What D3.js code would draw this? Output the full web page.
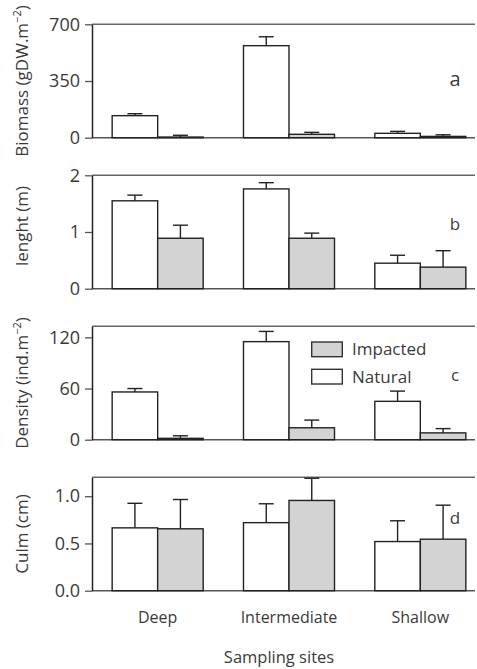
<!DOCTYPE html>
<meta charset="utf-8">
<script src="https://d3js.org/d3.v7.min.js"></script>
<style>
  body { margin: 0; background: #fff; }
  text { font-family: "Open Sans", sans-serif; fill: #3a3a3a; }
</style>
<div id="my_dataviz"></div>
<script>
  // data
  var sites = ["Deep", "Intermediate", "Shallow"];
  var treatments = ["Natural", "Impacted"];

  var biomassNatural = [136, 568, 27],       biomassNaturalErr = [12, 55, 12];
  var biomassImpacted = [4, 21, 8],          biomassImpactedErr = [11, 12, 10];
  var lengthNatural = [1.55, 1.76, 0.45],    lengthNaturalErr = [0.10, 0.11, 0.14];
  var lengthImpacted = [0.89, 0.89, 0.38],   lengthImpactedErr = [0.23, 0.09, 0.29];
  var densityNatural = [56, 115, 45],        densityNaturalErr = [4, 12, 12];
  var densityImpacted = [1.6, 14, 8],        densityImpactedErr = [3, 9, 5];
  var culmNatural = [0.665, 0.72, 0.52],     culmNaturalErr = [0.26, 0.20, 0.22];
  var culmImpacted = [0.655, 0.955, 0.545],  culmImpactedErr = [0.31, 0.235, 0.36];

  var panelLetters = ["a", "b", "c", "d"];
  var yLabels = ["Biomass (gDW.m", "lenght (m)", "Density (ind.m", "Culm (cm)"];
  var ySuper = [true, false, true, false];
  var yMax = [700, 2, 133, 1.2];
  var yTicks = [[0, 350, 700], [0, 1, 2], [0, 60, 120], [0, 0.5, 1.0]];
  var xTitle = "Sampling sites";

  var panels = [
    [biomassNatural, biomassNaturalErr, biomassImpacted, biomassImpactedErr],
    [lengthNatural, lengthNaturalErr, lengthImpacted, lengthImpactedErr],
    [densityNatural, densityNaturalErr, densityImpacted, densityImpactedErr],
    [culmNatural, culmNaturalErr, culmImpacted, culmImpactedErr]
  ];

  var width = 477, height = 669;
  var left = 92, right = 475;
  var panelTop = 24.3, panelStep = 151, panelH = 113.4;

  var svg = d3.select("#my_dataviz")
    .append("svg")
    .attr("width", width)
    .attr("height", height);

  var x0 = d3.scaleBand().domain(sites).range([left, 486]).padding(0);
  var x1 = d3.scaleBand().domain(treatments)
    .range([0, x0.bandwidth()])
    .paddingInner(0).paddingOuter(0.443);

  var fill = { Natural: "#ffffff", Impacted: "#d3d3d3" };

  panels.forEach(function(p, i) {
    var top = panelTop + i * panelStep;
    var bottom = top + panelH;
    var y = d3.scaleLinear().domain([0, yMax[i]]).range([bottom, top]);
    var g = svg.append("g");

    // top frame line and baseline
    g.append("line")
      .attr("x1", left).attr("x2", right)
      .attr("y1", top).attr("y2", top)
      .attr("stroke", "#666").attr("stroke-width", 1.5);
    g.append("line")
      .attr("x1", left).attr("x2", right)
      .attr("y1", bottom).attr("y2", bottom)
      .attr("stroke", "#555").attr("stroke-width", 1.5);

    // y axis
    var fmt = i === 3 ? d3.format(".1f") : d3.format("d");
    var ax = g.append("g")
      .attr("transform", "translate(" + left + ",0)")
      .call(d3.axisLeft(y).tickValues(yTicks[i]).tickFormat(fmt)
        .tickSize(7).tickSizeOuter(0).tickPadding(5));
    ax.select(".domain").attr("stroke", "#222").attr("stroke-width", 1.5);
    ax.selectAll(".tick line").attr("stroke", "#555").attr("stroke-width", 1.3);
    ax.selectAll(".tick text")
      .style("font-family", "'Open Sans', sans-serif")
      .style("font-size", "18px").attr("fill", "#3a3a3a");

    // y label
    var lab = g.append("text")
      .attr("transform", "translate(28," + ((top + bottom) / 2 + (i === 1 ? -6 : 0)) + ") rotate(-90)")
      .attr("text-anchor", "middle")
      .style("font-size", "17px");
    lab.append("tspan").text(yLabels[i]);
    if (ySuper[i]) {
      lab.append("tspan").attr("dy", -7).style("font-size", "11px").text("\u22122");
      lab.append("tspan").attr("dy", 7).text(")");
    }

    // bars
    var rows = [];
    sites.forEach(function(s, k) {
      rows.push({ site: s, t: "Natural", v: p[0][k], e: p[1][k] });
      rows.push({ site: s, t: "Impacted", v: p[2][k], e: p[3][k] });
    });

    // error bars (drawn first so the bar outline sits on top)
    var eb = g.selectAll(".err").data(rows).enter().append("g");
    eb.append("line")
      .attr("x1", function(d) { return x0(d.site) + x1(d.t) + x1.bandwidth() / 2; })
      .attr("x2", function(d) { return x0(d.site) + x1(d.t) + x1.bandwidth() / 2; })
      .attr("y1", function(d) { return y(d.v); })
      .attr("y2", function(d) { return y(d.v + d.e); })
      .attr("stroke", "#222").attr("stroke-width", 1.4);
    eb.append("line")
      .attr("x1", function(d) { return x0(d.site) + x1(d.t) + x1.bandwidth() / 2 - 7.5; })
      .attr("x2", function(d) { return x0(d.site) + x1(d.t) + x1.bandwidth() / 2 + 7.5; })
      .attr("y1", function(d) { return y(d.v + d.e); })
      .attr("y2", function(d) { return y(d.v + d.e); })
      .attr("stroke", "#222").attr("stroke-width", 1.4);

    g.selectAll(".bar").data(rows).enter().append("rect")
      .attr("x", function(d) { return x0(d.site) + x1(d.t); })
      .attr("y", function(d) { return y(d.v); })
      .attr("width", x1.bandwidth())
      .attr("height", function(d) { return bottom - y(d.v); })
      .attr("fill", function(d) { return fill[d.t]; })
      .attr("stroke", "#222").attr("stroke-width", 1.4);

    // panel letter
    g.append("text")
      .attr("x", 455).attr("y", top + (i === 0 ? 62 : i === 3 ? 47 : 55))
      .attr("text-anchor", "middle")
      .style("font-size", i === 0 ? "20px" : "17px")
      .text(panelLetters[i]);

    if (i === 3) {
      g.selectAll(".xl").data(sites).enter().append("text")
        .attr("x", function(d) { return x0(d) + x0.bandwidth() / 2; })
        .attr("y", 623)
        .attr("text-anchor", "middle")
        .style("font-size", "16px")
        .text(function(d) { return d; });
    }
  });

  // legend (in panel c)
  var legend = svg.append("g");
  ["Impacted", "Natural"].forEach(function(t, k) {
    legend.append("rect")
      .attr("x", 311.7).attr("y", 342 + k * 27.3)
      .attr("width", 30.6).attr("height", 14.7)
      .attr("fill", fill[t]).attr("stroke", "#333").attr("stroke-width", 1.4);
    legend.append("text")
      .attr("x", 352).attr("y", 349.3 + k * 27.3)
      .attr("dy", "0.36em")
      .style("font-size", "17px")
      .text(t);
  });

  svg.append("text")
    .attr("x", 279).attr("y", 663)
    .attr("text-anchor", "middle")
    .style("font-size", "16.5px")
    .text(xTitle);
</script>
